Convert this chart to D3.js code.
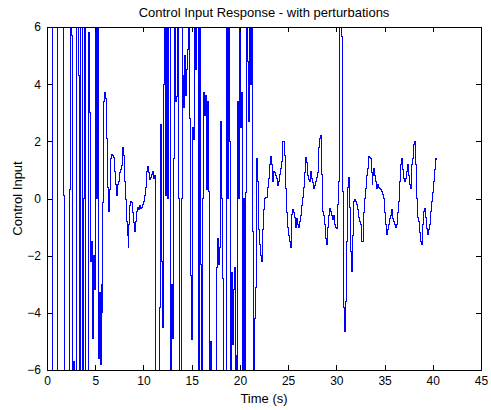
<!DOCTYPE html>
<html>
<head>
<meta charset="utf-8">
<script src="https://cdn.jsdelivr.net/npm/d3@7"></script>
<style>
  body { margin: 0; background: #fff; }
  text { font-family: "Liberation Sans", Arial, sans-serif; fill: #000; }
</style>
</head>
<body>
<script>
// sampled every 0.1 s, starting at t = 0
var sampleStep = 0.1;

// t = 0.0 .. 5.7 s  (controller saturating)
var burst1 = [-9, 9, 10, 11, 10, 9, -9, -11, -12, -10,
              -9, 9, 11, 12, 11, 10, 9, 0.1, -9, -11,
              -12, -11, -10, 0.3, 9, 5.7, -9, -5.7, -10, -11,
              -10, 9, 10, 4.3, -9, 9, 11, -9, 0, 9,
              -9, -10, -9, 5.8, 3.0, -2.2, -1.5, -4.9, -2.0, -3.2,
              9, 0, 9, -5.6, -3.3, -5.8, -3.0, -4.0];

// t = 5.8 .. 11.2 s
var calm1 = [-0.15, 3.4, 3.7, 3.5, 2.1, 0.4, -0.45, 0.3, 1.4, 1.55,
             1.5, 1.45, 0.95, 0.5, 0.1, 0.5, 0.6, 0.9, 1.0, 1.15,
             1.77, 1.5, 0.6, -0.05, -0.8, -1.3, -1.7, -0.9, -0.25, -0.1,
             -0.15, -0.5, -0.85, -1.15, -0.8, -0.45, -0.3, -0.4, -0.25, -0.35,
             -0.3, -0.2, -0.1, 0.1, 0.4, 0.95, 1.12, 0.9, 0.65, 0.75,
             0.85, 0.95, 0.7, 0.8, -0.2];

// t = 11.3 .. 21.6 s
var burst2 = [-8, -9, -10, -9, -3.8, 2.6, -2.2, -4.5, 4.0, 9,
              0.1, 9, 0, 9, 7, -8, -3.0, -4.9, 1.4, 9,
              3.4, 3.57, 9, 0, -9, -8, 0, 9, 4.3, 3.2,
              5.0, 3.6, 4.5, 5.2, 9, 2.8, -2.7, -4.95, 2.5, 2.05,
              9, 4.5, 9, 9, -9, 9, -2.3, -9, 0, 3.7,
              2.9, 3.6, 0.3, 3.4, 0.25, -4.9, -9, -5.0, -9, -10,
              -9, -8, -9, -2.4, -1.4, -2.3, -1.7, 2.7, 0, -2.8,
              -9, -8, -9, 9, 0, 9, 2.0, -9, -2.6, -5.1,
              -3.2, -2.4, -9, -5.5, -9, 3.4, 0, 9, 2.5, 3.7,
              -9, 0, -6.5, 0.2, 9, 4.8, 2.7, 9, 4.0, 9,
              -1.15, -9, -4.2, -3.1];

// t = 21.7 .. 40.4 s
var calm2 = [1.4, 0.6, -1.1, -1.6, -2.0, -2.2, -1.1, -0.4, -0.1, 0.0,
             0.05, 0.05, 0.4, 0.7, 1.2, 1.47, 1.2, 0.6, 0.95, 0.9,
             0.8, 0.7, 0.45, 0.6, 0.85, 1.05, 1.3, 2.0, 2.0, 1.5,
             0.35, -0.5, -1.0, -1.3, -1.5, -1.7, -0.9, -0.55, -0.4, -0.5,
             -0.65, -1.0, -0.7, -0.9, -1.0, -0.8, -0.6, -0.25, 0.05, 0.4,
             0.9, 1.42, 1.25, 0.8, 0.65, 0.6, 0.95, 0.7, 0.55, 0.35,
             0.45, 0.6, 0.75, 0.9, 1.3, 1.8, 2.1, 2.2, 0.83, -0.45,
             -0.6, -0.9, -1.4, -1.62, -1.0, -0.6, -0.35, -0.45, -0.6, -0.75,
             -0.6, -0.9, -1.0, -1.04, -0.2, 0.6, 9, 7.5, 5.66, 0.25,
             -3.8, -4.65, -4.4, -3.6, -1.5, 0.37, 0.72, -0.3, -1.85, -2.55,
             -1.3, -0.1, -0.05, -0.1, -0.2, -0.4, -0.67, -0.8, -0.9, -1.5,
             -1.5, -0.5, 0.0, 0.36, 0.8, 1.06, 1.47, 1.45, 1.41, 0.9,
             0.48, 0.8, 1.06, 0.8, 0.6, 0.36, 0.5, 0.4, 0.36, 0.3,
             0.25, 0.15, 0.0, -0.5, -0.92, -1.27, -1.1, -0.9, -0.7, -0.6,
             -0.4, -0.7, -0.8, -0.9, -1.03, -0.9, -0.5, -0.1, 0.25, 0.6,
             1.18, 1.41, 1.0, 0.71, 0.6, 0.7, 0.95, 1.18, 0.8, 0.5,
             0.36, 1.18, 1.41, 1.88, 2.0, 1.2, 0.0, -0.67, -0.8, -1.2,
             -1.5, -1.6, -0.9, -0.45, -0.34, -0.67, -0.85, -1.05, -1.27, -1.1,
             -0.9, -0.45, -0.1, 0.2, 0.6, 1.0, 1.41, 1.35];

var xTicks = [0, 5, 10, 15, 20, 25, 30, 35, 40, 45];
var yTicks = [-6, -4, -2, 0, 2, 4, 6];

var values = burst1.concat(calm1, burst2, calm2);

var W = 491, H = 410;
var margin = {top: 27, right: 10, bottom: 40, left: 47};
var w = W - margin.left - margin.right;
var h = H - margin.top - margin.bottom;

var svg = d3.select("body")
            .append("svg")
            .attr("width", W)
            .attr("height", H);

var x = d3.scaleLinear().domain([0, 45]).range([0, w]);
var y = d3.scaleLinear().domain([-6, 6]).range([h, 0]);

var g = svg.append("g")
           .attr("transform", "translate(" + margin.left + "," + margin.top + ")");

g.append("clipPath").attr("id", "plotclip")
 .append("rect").attr("width", w).attr("height", h);

// matlab draws it aliased, so step + crisp edges looks closest
var line = d3.line()
             .curve(d3.curveStepAfter)
             .x(function(d, i) { return x(i * sampleStep); })
             .y(function(d) { return y(d); });

g.append("path")
 .datum(values)
 .attr("clip-path", "url(#plotclip)")
 .attr("d", line)
 .attr("fill", "none")
 .attr("stroke", "#0000ff")
 .attr("stroke-width", 1)
 .attr("shape-rendering", "crispEdges");

// axes, ticks pointing inward like matlab
var tl = 5;
var xAxisBot = g.append("g").attr("transform", "translate(0," + h + ")")
  .call(d3.axisBottom(x).tickValues(xTicks).tickSizeInner(-tl).tickSizeOuter(0).tickPadding(6));
var yAxisLeft = g.append("g")
  .call(d3.axisLeft(y).tickValues(yTicks).tickSizeInner(-tl).tickSizeOuter(0).tickPadding(6));
var xAxisTop = g.append("g")
  .call(d3.axisTop(x).tickValues(xTicks).tickSizeInner(-tl).tickSizeOuter(0).tickFormat(""));
var yAxisRight = g.append("g").attr("transform", "translate(" + w + ",0)")
  .call(d3.axisRight(y).tickValues(yTicks).tickSizeInner(-tl).tickSizeOuter(0).tickFormat(""));

[xAxisBot, yAxisLeft, xAxisTop, yAxisRight].forEach(function(a) {
  a.selectAll("text").style("font-size", "12px").style("font-family", "Liberation Sans, Arial, sans-serif").attr("fill", "#000");
  a.selectAll("line").attr("stroke", "#000").attr("shape-rendering", "crispEdges");
  a.select(".domain").attr("stroke", "none");
});

g.append("rect")
 .attr("width", w).attr("height", h)
 .attr("fill", "none").attr("stroke", "#000").attr("stroke-width", 1)
 .attr("shape-rendering", "crispEdges");

svg.append("text")
   .text("Control Input Response - with perturbations")
   .attr("x", margin.left + w / 2)
   .attr("y", 17)
   .attr("text-anchor", "middle")
   .style("font-size", "13px");

svg.append("text")
   .text("Time (s)")
   .attr("x", margin.left + w / 2)
   .attr("y", 403)
   .attr("text-anchor", "middle")
   .style("font-size", "13px");

svg.append("text")
   .text("Control Input")
   .attr("transform", "translate(22," + (margin.top + h / 2) + ") rotate(-90)")
   .attr("text-anchor", "middle")
   .style("font-size", "13px");
</script>
</body>
</html>
